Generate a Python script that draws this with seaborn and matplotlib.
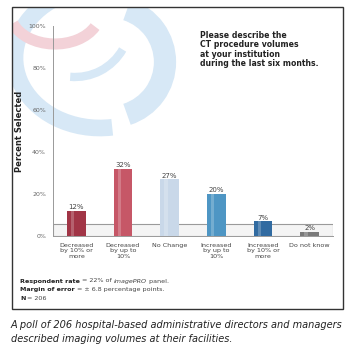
import matplotlib
matplotlib.use("Agg")
import matplotlib.pyplot as plt
from matplotlib.patches import Rectangle, Arc
import seaborn as sns
import pandas as pd

# Survey responses
categories = ["Decreased\nby 10% or\nmore", "Decreased\nby up to\n10%", "No Change",
              "Increased\nby up to\n10%", "Increased\nby 10% or\nmore", "Do not know"]
percent_selected = [12, 32, 27, 20, 7, 2]
bar_colors = ["#b3233a", "#d8455a", "#c4d8ee", "#3a9ad8", "#1e6cb4", "#7a7a7a"]
y_ticks = [0, 20, 40, 60, 80, 100]
y_tick_labels = ["0%", "20%", "40%", "60%", "80%", "100%"]

question = "Please describe the\nCT procedure volumes\nat your institution\nduring the last six months."
footnotes = [
    [("Respondent rate", "bold"), (" = 22% of ", "normal"), ("imagePRO", "italic"), (" panel.", "normal")],
    [("Margin of error", "bold"), (" = \u00b1 6.8 percentage points.", "normal")],
    [("N", "bold"), (" = 206", "normal")],
]
caption = ("A poll of 206 hospital-based administrative directors and managers\n"
           "described imaging volumes at their facilities.")

sns.set_theme(style="white")
plt.rcParams["font.family"] = ["DejaVu Sans"]

W, H = 350, 356
fig = plt.figure(figsize=(W / 100, H / 100), dpi=100)
fig.patch.set_facecolor("white")

# Background layer in pixel coordinates (border + soft swirl logo)
bg = fig.add_axes([0, 0, 1, 1])
bg.set_xlim(0, W)
bg.set_ylim(H, 0)
bg.axis("off")
frame = Rectangle((12, 7), 331, 302, fill=False, ec="#333333", lw=1.0)
bg.add_patch(frame)
swirl_blue, swirl_pink = "#d7e8f6", "#f3d2d8"
swirl = [
    Arc((100, 58), 170, 140, theta1=80, theta2=235, lw=12, color=swirl_blue),
    Arc((110, 62), 110, 110, theta1=-72, theta2=72, lw=16, color=swirl_blue),
    Arc((75, 22), 110, 110, theta1=30, theta2=95, lw=6, color=swirl_blue),
    Arc((55, 12), 90, 64, theta1=20, theta2=165, lw=8, color=swirl_pink),
]
for arc in swirl:
    arc.set_zorder(0)
    bg.add_patch(arc)
    arc.set_clip_path(frame)

# Chart axes
left, right = 53 / W, 333 / W
bottom, top = 1 - 236 / H, 1 - 26 / H
ax = fig.add_axes([left, bottom, right - left, top - bottom])
ax.patch.set_alpha(0)

df = pd.DataFrame({"category": categories, "pct": percent_selected})

# Floor band behind the bars
ax.add_patch(Rectangle((-0.5, 0), 6, 5.5, fc="#f4f4f4", ec="#9a9a9a", lw=0.8, zorder=0))

sns.barplot(data=df, x="category", y="pct", hue="category", palette=bar_colors,
            legend=False, width=0.4, ax=ax, zorder=2, edgecolor="none")

# Soft highlight stripe on each bar for a rounded look
for patch in ax.patches[1:]:
    x0, w, h = patch.get_x(), patch.get_width(), patch.get_height()
    ax.add_patch(Rectangle((x0 + w * 0.22, 0), w * 0.18, h, fc="white", alpha=0.22, ec="none", zorder=2.5))

for i, v in enumerate(percent_selected):
    ax.text(i, v + 0.3, f"{v}%", ha="center", va="bottom", fontsize=5, color="#444444", zorder=3)

ax.set_xlim(-0.5, 5.5)
ax.set_ylim(0, 100)
ax.set_yticks(y_ticks)
ax.set_yticklabels(y_tick_labels, fontsize=4.5, color="#666666")
ax.set_xticks(range(len(categories)))
ax.set_xticklabels(categories, fontsize=4.6, color="#444444", linespacing=1.1)
ax.set_xlabel("")
ax.set_ylabel("Percent Selected", fontsize=6, fontweight="bold", color="#222222", labelpad=3)
for side in ["top", "right"]:
    ax.spines[side].set_visible(False)
for side in ["left", "bottom"]:
    ax.spines[side].set_color("#999999")
    ax.spines[side].set_linewidth(0.7)
ax.tick_params(axis="both", length=2, width=0.6, color="#999999", pad=3)

# Question text
bg.text(200, 31, question, fontsize=5.6, fontweight="bold", color="#222222",
        va="top", ha="left", linespacing=1.05)

# Footnotes: mixed-style runs laid out one after another
fig.canvas.draw()
renderer = fig.canvas.get_renderer()
fs = 4.6
for row, runs in enumerate(footnotes):
    x = 20
    y = 281 + row * 9
    for txt, style in runs:
        kw = dict(fontsize=fs, va="center", ha="left")
        if style == "bold":
            kw.update(fontweight="bold", color="#222222")
        elif style == "italic":
            kw.update(style="italic", color="#444444")
        else:
            kw.update(color="#444444")
        t = bg.text(x, y, txt, **kw)
        bb = t.get_window_extent(renderer)
        x += bb.width * W / fig.bbox.width

# Caption
bg.text(11, 332, caption, fontsize=7.8, style="italic", color="#222222",
        fontstretch="condensed", va="center", ha="left", linespacing=1.4)

fig.savefig("out.png", dpi=100)
